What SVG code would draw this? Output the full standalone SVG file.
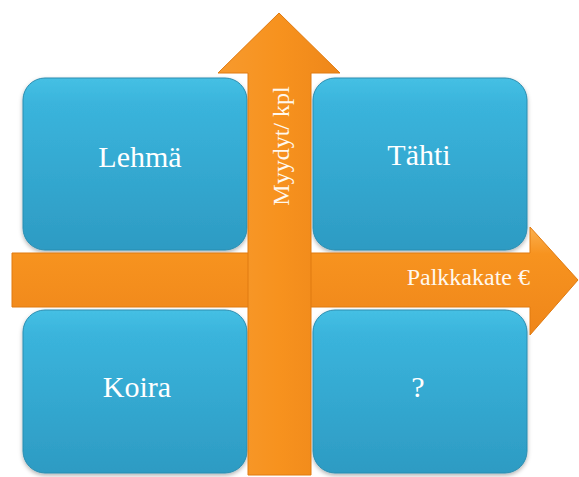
<svg xmlns="http://www.w3.org/2000/svg" width="579" height="477" viewBox="0 0 579 477">
<style>
.box{fill:url(#gb);stroke:#2a8db0;stroke-width:1;filter:url(#sh)}
.arr{fill:url(#go);stroke:#e07a10;stroke-width:1}
.lbl{font-family:"Liberation Serif","Times New Roman",serif;fill:#ffffff;font-size:30px;text-anchor:middle}
.al{font-family:"Liberation Serif","Times New Roman",serif;fill:#fff8ee;font-size:24px}
</style>
<defs>
<linearGradient id="gb" x1="0" y1="0" x2="0" y2="1">
<stop offset="0" stop-color="#45c0e4"/>
<stop offset="0.15" stop-color="#3ab4dc"/>
<stop offset="1" stop-color="#2d9bc3"/>
</linearGradient>
<linearGradient id="go" x1="0" y1="0" x2="0" y2="1">
<stop offset="0" stop-color="#fbb04f"/>
<stop offset="0.25" stop-color="#f7931f"/>
<stop offset="1" stop-color="#ef861a"/>
</linearGradient>
<linearGradient id="gov" x1="0" y1="0" x2="1" y2="0">
<stop offset="0" stop-color="#f79a2e"/>
<stop offset="0.5" stop-color="#f7921e"/>
<stop offset="1" stop-color="#ee871a"/>
</linearGradient>
<filter id="sh" x="-10%" y="-10%" width="120%" height="125%">
<feDropShadow dx="0" dy="2" stdDeviation="2" flood-color="#000" flood-opacity="0.3"/>
</filter>
</defs>
<g id="lehma"><rect class="box" x="23" y="78" width="224" height="172" rx="22"/><text class="lbl" x="140" y="167">Lehmä</text></g>
<g id="tahti"><rect class="box" x="313" y="78" width="214" height="172" rx="22"/><text class="lbl" x="419" y="165">Tähti</text></g>
<g id="koira"><rect class="box" x="23" y="310" width="224" height="163" rx="22"/><text class="lbl" x="137" y="397">Koira</text></g>
<g id="kysymys"><rect class="box" x="313" y="310" width="214" height="163" rx="22"/><text class="lbl" x="418" y="397">?</text></g>
<g id="connectors">
<g id="x-axis"><polygon class="arr" points="12,253 530,253 530,227 578,280 530,335 530,307 12,307"/><text class="al" x="530" y="285" text-anchor="end">Palkkakate €</text></g>
<g id="y-axis"><polygon class="arr" style="fill:url(#gov)" points="248,475 248,73 218,73 279,13 340,73 311,73 311,475"/><text class="al" transform="translate(289,146) rotate(-90)" text-anchor="middle">Myydyt/ kpl</text></g>
</g>
</svg>
